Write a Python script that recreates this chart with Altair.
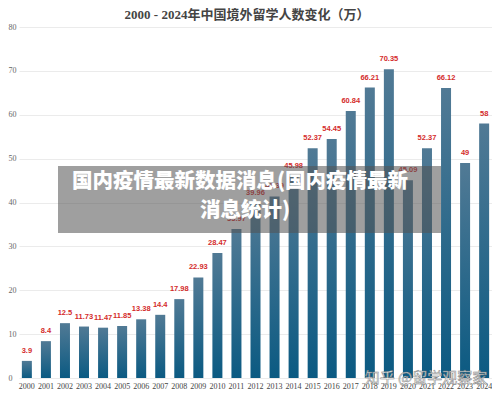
import altair as alt
import pandas as pd

years = [str(y) for y in range(2000, 2025)]
values = [3.9, 8.4, 12.5, 11.73, 11.47, 11.85, 13.38, 14.4, 17.98, 22.93, 28.47,
          33.97, 39.96, 41.39, 45.98, 52.37, 54.45, 60.84, 66.21, 70.35, 45.09,
          52.37, 66.12, 49, 58]
labels = ["3.9", "8.4", "12.5", "11.73", "11.47", "11.85", "13.38", "14.4", "17.98",
          "22.93", "28.47", "33.97", "39.96", "41.39", "45.98", "52.37", "54.45",
          "60.84", "66.21", "70.35", "45.09", "52.37", "66.12", "49", "58"]
y_ticks = [0, 10, 20, 30, 40, 50, 60, 70, 80]

title_text = "2000 - 2024年中国境外留学人数变化（万）"
overlay_lines = ["国内疫情最新数据消息(国内疫情最新", "消息统计)"]
watermark = "知乎 @留学观察家"

df = pd.DataFrame({"year": years, "value": values, "label": labels})

W, H = 473, 351
x = alt.X("year:N", sort=years, title=None,
          scale=alt.Scale(paddingInner=0.475, paddingOuter=0.15),
          axis=alt.Axis(labelAngle=0, domain=False, ticks=False, tickSize=0,
                        labelPadding=4, labelFont="Liberation Serif",
                        labelFontSize=8, labelColor="#444444"))
y = alt.Y("value:Q", title=None,
          scale=alt.Scale(domain=[0, 80], nice=False),
          axis=alt.Axis(values=y_ticks, grid=True, gridColor="#ebebeb",
                        gridWidth=1, domain=False, ticks=False, tickSize=0,
                        labelAlign="left", labelPadding=11,
                        labelFont="Liberation Serif", labelFontSize=8,
                        labelColor="#666666"))

base = alt.Chart(df)

bars = base.mark_bar(
    color=alt.Gradient(
        gradient="linear", x1=0, y1=0, x2=0, y2=1,
        stops=[alt.GradientStop(color="#517a95", offset=0),
               alt.GradientStop(color="#0b5a82", offset=1)])
).encode(x=x, y=y)

vals = base.mark_text(
    dy=-6, baseline="bottom", font="Liberation Sans", fontWeight="bold",
    fontSize=7.5, color="#d42b2b"
).encode(x=x, y=y, text="label:N")

one = alt.Chart(pd.DataFrame({"k": [0]}))

title = one.mark_text(
    font="Liberation Serif, Noto Sans CJK SC", fontWeight="bold", fontSize=13,
    color="#444444", baseline="middle", align="center"
).encode(x=alt.value(228), y=alt.value(-12), text=alt.value(title_text))

overlay = one.mark_rect(color="#535353", opacity=0.56).encode(
    x=alt.value(39), x2=alt.value(422), y=alt.value(139), y2=alt.value(206))

ov1 = one.mark_text(
    font="Noto Sans CJK SC", fontWeight=900, fontSize=20.5, color="white",
    baseline="middle", align="center"
).encode(x=alt.value(221), y=alt.value(155), text=alt.value(overlay_lines[0]))

ov2 = one.mark_text(
    font="Noto Sans CJK SC", fontWeight=900, fontSize=20.5, color="white",
    baseline="middle", align="center"
).encode(x=alt.value(226), y=alt.value(184), text=alt.value(overlay_lines[1]))

wm = one.mark_text(
    font="Noto Sans CJK SC", fontSize=15, color="white", opacity=0.9,
    stroke="#777777", strokeWidth=0.5, baseline="middle", align="center"
).encode(x=alt.value(407), y=alt.value(351), text=alt.value(watermark))

chart = alt.layer(bars, vals, title, overlay, ov1, ov2, wm).properties(
    width=W, height=H,
    autosize=alt.AutoSizeParams(type="none"),
    padding={"left": 11, "top": 19, "right": 0, "bottom": 13},
    background="white",
).configure_view(stroke=None)

chart.save("out.html", embed_options={"renderer": "svg", "actions": False})
